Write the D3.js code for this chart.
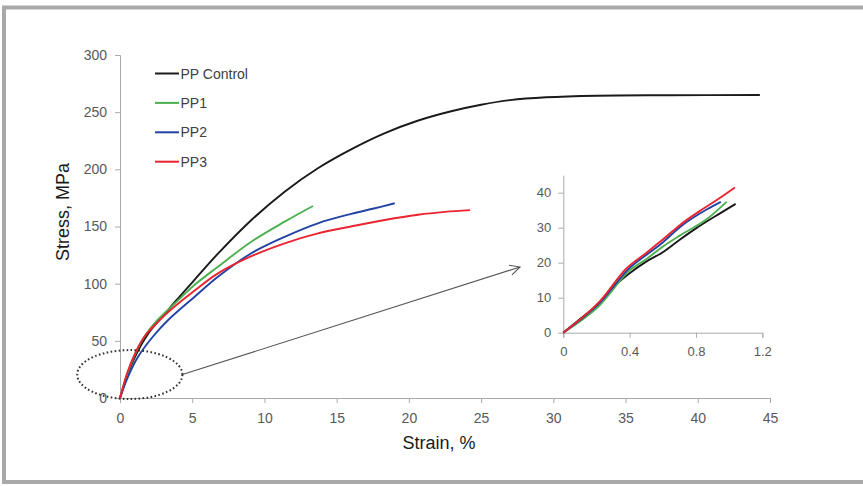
<!DOCTYPE html>
<html>
<head>
<meta charset="utf-8">
<script src="https://cdn.jsdelivr.net/npm/d3@7"></script>
<style>
  body { margin: 0; background: #fff; }
  text { font-family: "Liberation Sans", Arial, sans-serif; }
</style>
</head>
<body>
<div id="chart"></div>
<script>
// series: [strain %, stress MPa]
const ppControl = [[0,0],[0.5,19],[1,35],[2,57],[3,72],[3.8,84],[5.2,104],[6.8,126.5],[9.1,155.7],[11.4,180.5],[13.7,201],[16,217.5],[18.3,231.5],[20.6,242.5],[23,251],[25,256.5],[27,260.5],[29.5,263],[33,264.4],[38,264.8],[44.3,265]];
const pp1 = [[0,0],[0.5,20],[1,37],[1.6,52],[2.5,67],[3.9,84],[5.17,99],[6.78,114.8],[9.09,136.7],[11.4,154.2],[13.36,167.9]];
const pp2 = [[0,0],[0.5,17],[1.25,36],[2.3,54],[3.32,68],[5.17,88.6],[6.78,106],[9.09,126.6],[11.4,141],[13.7,152.8],[16,161],[17.5,165.5],[19.02,170.3]];
const pp3 = [[0,0],[0.5,22],[1.16,42],[1.71,54],[2.5,65],[3.32,75],[5.17,94],[6.78,109],[9.09,124],[11.4,135.3],[13.7,144],[16,150],[18.33,155.7],[20.63,160.3],[22.5,162.8],[24.24,164.3]];

// inset (first ~1% strain)
const insetControl = [[0,0],[0.12,4.6],[0.211,8.2],[0.281,12.1],[0.4,17],[0.5,20.3],[0.6,23],[0.7,26.5],[0.8,29.8],[0.945,34.1],[1.039,36.8]];
const insetPP1 = [[0,0],[0.221,7.9],[0.402,17.9],[0.5,21],[0.6,24.6],[0.704,27.8],[0.864,32.4],[0.985,37.4]];
const insetPP2 = [[0,0],[0.221,8.6],[0.402,18.6],[0.5,22.2],[0.6,25.8],[0.704,30.2],[0.864,35.2],[0.95,37.4]];
const insetPP3 = [[0,0],[0.221,9],[0.382,18.4],[0.5,22.8],[0.6,26.6],[0.704,30.8],[0.824,34.8],[0.925,37.9],[1.035,41.5]];

const seriesNames = ["PP Control", "PP1", "PP2", "PP3"];
const seriesColors = ["#1a1a1a", "#4cb050", "#2242a4", "#ea2430"];

const xTicks = [0,5,10,15,20,25,30,35,40,45];
const yTicks = [0,50,100,150,200,250,300];
const insetXTicks = [0,0.4,0.8,1.2];
const insetYTicks = [0,10,20,30,40];

const W = 863, H = 486;
const svg = d3.select("#chart").append("svg")
  .attr("width", W).attr("height", H);

// frame
svg.append("rect")
  .attr("x", 4).attr("y", 7.5)
  .attr("width", 900).attr("height", 474.5)
  .attr("fill", "none")
  .attr("stroke", "#a9a9a9")
  .attr("stroke-width", 4);

// main scales
let x = d3.scaleLinear().domain([0, 45]).range([120, 770]);
let y = d3.scaleLinear().domain([0, 300]).range([398, 55]);

const axisColor = "#a8aca8";
const tickTextColor = "#595959";

function styleAxis(g, size) {
  g.select(".domain").attr("stroke", axisColor);
  g.selectAll(".tick line").attr("stroke", axisColor);
  g.selectAll(".tick text").attr("fill", tickTextColor)
    .style("font-size", size + "px")
    .style("font-family", "'Liberation Sans', Arial, sans-serif");
}

svg.append("g")
  .attr("transform", "translate(0," + y(0) + ")")
  .call(d3.axisBottom(x).tickValues(xTicks).tickSize(5).tickSizeOuter(5).tickPadding(10))
  .call(g => styleAxis(g, 14));

svg.append("g")
  .attr("transform", "translate(" + x(0) + ",0)")
  .call(d3.axisLeft(y).tickValues(yTicks).tickSize(5).tickSizeOuter(5).tickPadding(8))
  .call(g => styleAxis(g, 14));

// axis titles
svg.append("text")
  .attr("x", 439).attr("y", 449)
  .attr("text-anchor", "middle")
  .attr("fill", "#1a1a1a")
  .style("font-size", "18px")
  .text("Strain, %");

svg.append("text")
  .attr("transform", "translate(69,212) rotate(-90)")
  .attr("text-anchor", "middle")
  .attr("fill", "#1a1a1a")
  .style("font-size", "18px")
  .text("Stress, MPa");

// curves
let line = d3.line()
  .x(d => x(d[0]))
  .y(d => y(d[1]))
  .curve(d3.curveCatmullRom.alpha(0.5));

[ppControl, pp1, pp2, pp3].forEach((s, i) => {
  svg.append("path")
    .datum(s)
    .attr("d", line)
    .attr("fill", "none")
    .attr("stroke", seriesColors[i])
    .attr("stroke-width", 1.9);
});

// legend
seriesNames.forEach((name, i) => {
  let ly = 73.5 + i * 29.4;
  svg.append("line")
    .attr("x1", 155).attr("x2", 179)
    .attr("y1", ly).attr("y2", ly)
    .attr("stroke", seriesColors[i])
    .attr("stroke-width", 2);
  svg.append("text")
    .attr("x", 180.5).attr("y", ly + 5)
    .attr("fill", "#404040")
    .style("font-size", "14px")
    .text(name);
});

// dotted ellipse around the start of the curves
let ex = x(0.68), ey = y(20.5);
let erx = x(3.64) - x(0), ery = y(0) - y(21.4);
svg.append("ellipse")
  .attr("cx", ex).attr("cy", ey)
  .attr("rx", erx).attr("ry", ery)
  .attr("fill", "none")
  .attr("stroke", "#333")
  .attr("stroke-width", 2)
  .attr("stroke-dasharray", "1.6,2.4");

// arrow to inset
svg.append("defs").append("marker")
  .attr("id", "arrow")
  .attr("viewBox", "0 0 12 12")
  .attr("refX", 11).attr("refY", 6)
  .attr("markerWidth", 12).attr("markerHeight", 12)
  .attr("markerUnits", "userSpaceOnUse")
  .attr("orient", "auto")
  .append("path")
  .attr("d", "M1,1 L11,6 L1,11")
  .attr("fill", "none")
  .attr("stroke", "#555")
  .attr("stroke-width", 1.1);

svg.append("line")
  .attr("x1", ex + erx).attr("y1", ey)
  .attr("x2", 520).attr("y2", 267)
  .attr("stroke", "#555")
  .attr("stroke-width", 1.1)
  .attr("marker-end", "url(#arrow)");

// inset
let ix = d3.scaleLinear().domain([0, 1.2]).range([563.3, 762.3]);
let iy = d3.scaleLinear().domain([0, 45]).range([332.7, 175.2]);

svg.append("g")
  .attr("transform", "translate(0," + iy(0) + ")")
  .call(d3.axisBottom(ix).tickValues(insetXTicks).tickSize(5).tickSizeOuter(5).tickPadding(9)
    .tickFormat(d => d === 0 ? "0" : d3.format(".1f")(d)))
  .call(g => styleAxis(g, 13));

svg.append("g")
  .attr("transform", "translate(" + ix(0) + ",0)")
  .call(d3.axisLeft(iy).tickValues(insetYTicks).tickSize(5).tickSizeOuter(0).tickPadding(7))
  .call(g => styleAxis(g, 13));

let iline = d3.line()
  .x(d => ix(d[0]))
  .y(d => iy(d[1]))
  .curve(d3.curveMonotoneX);

[insetControl, insetPP1, insetPP2, insetPP3].forEach((s, i) => {
  svg.append("path")
    .datum(s)
    .attr("d", iline)
    .attr("fill", "none")
    .attr("stroke", seriesColors[i])
    .attr("stroke-width", 1.9);
});
</script>
</body>
</html>
